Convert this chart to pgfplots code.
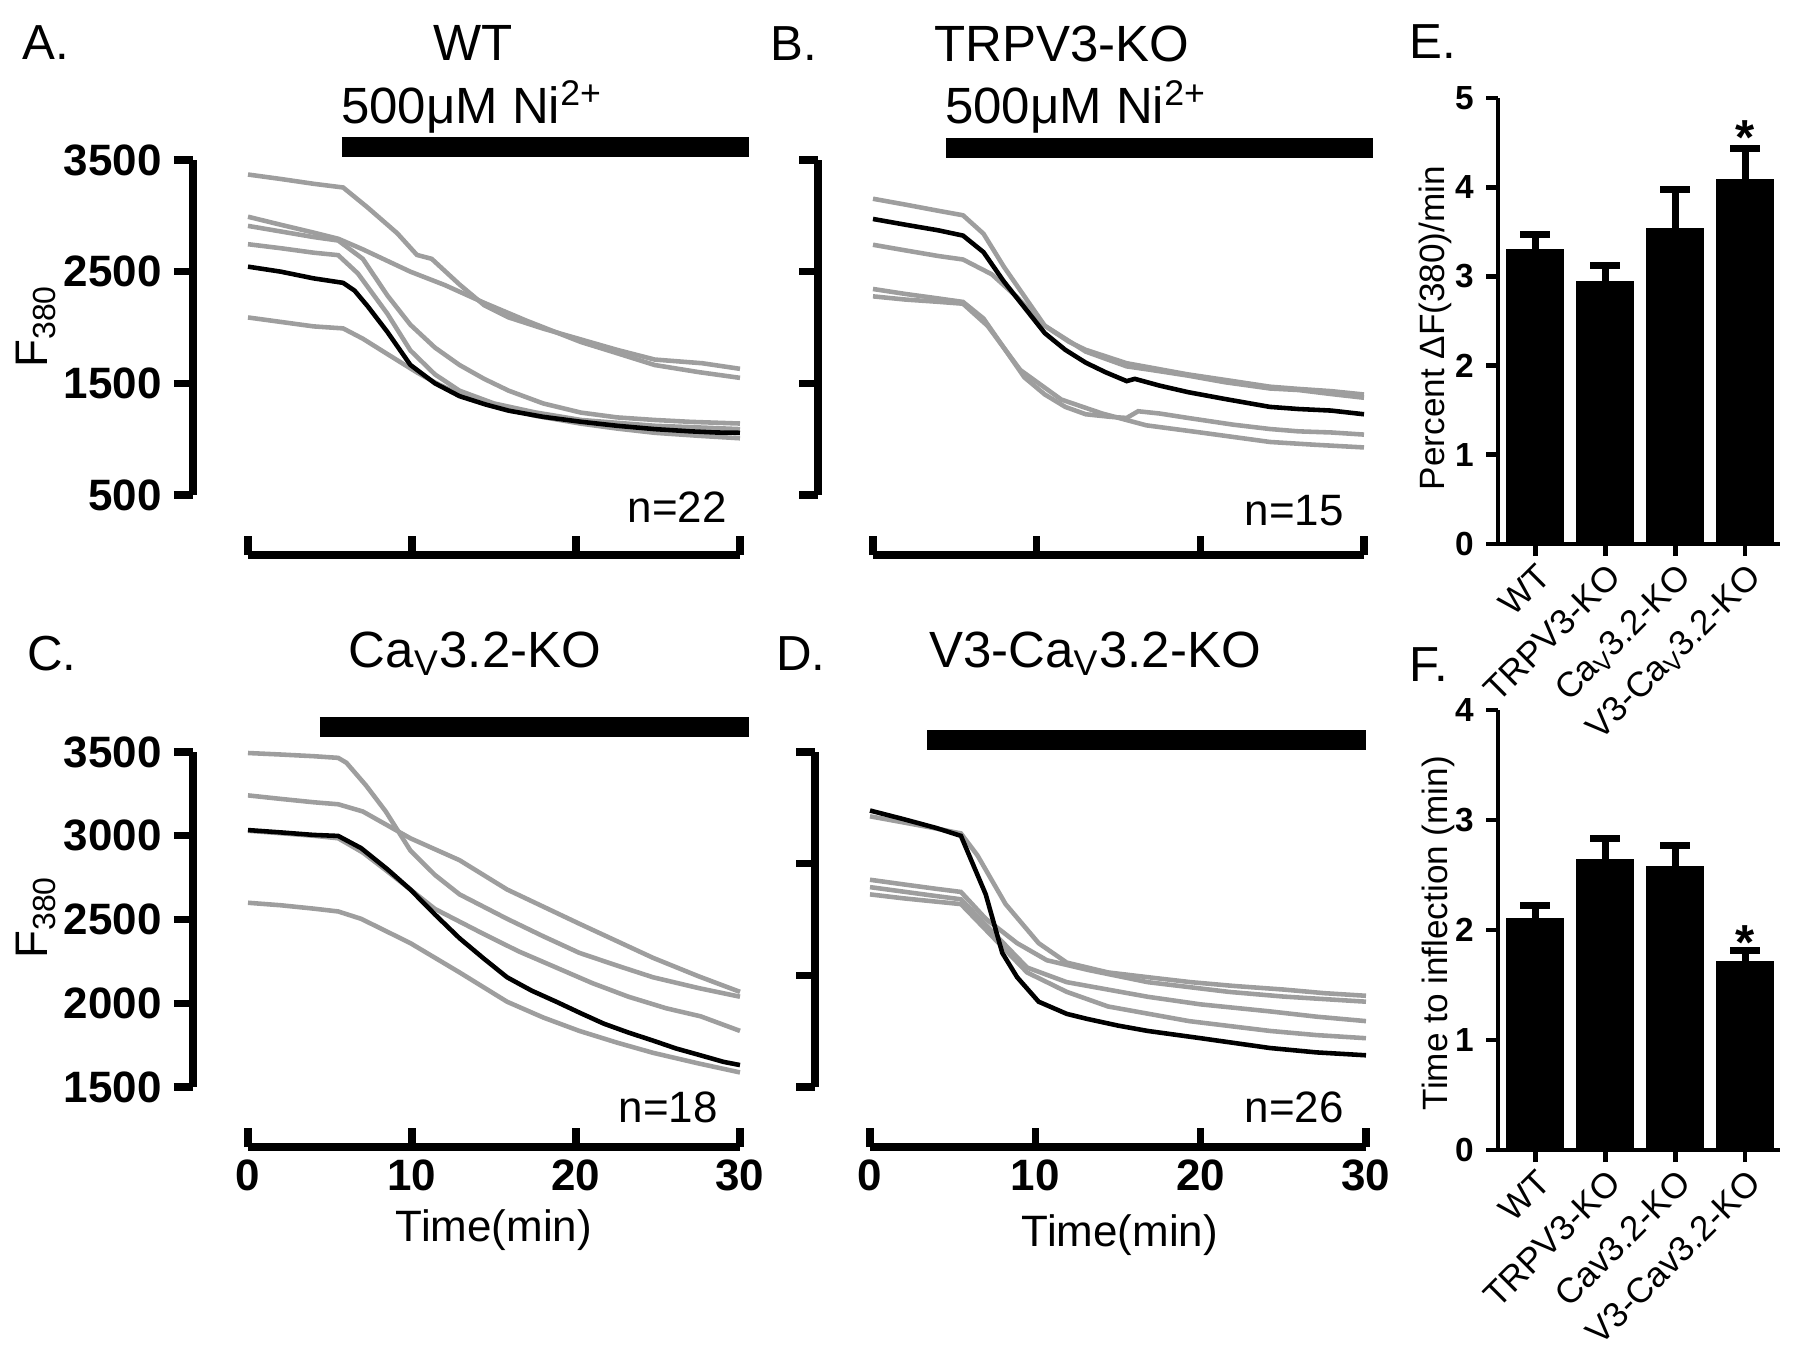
\documentclass[border=0pt]{standalone}
\usepackage{pgfplots}
\pgfplotsset{compat=1.18}
\usepackage{fontspec}
\setmainfont{Liberation Sans}
\definecolor{trgray}{RGB}{158,158,158}
\newcommand{\fs}[1]{\fontsize{#1}{#1}\selectfont}
\pgfplotsset{
  trace/.style={
    scale only axis, clip=false,
    xmin=0, xmax=30,
    axis x line=bottom, axis y line=left,
    axis line style={-, line width=2pt},
    every outer x axis line/.append style={-},
    every outer y axis line/.append style={-},
    every inner x axis line/.append style={-},
    every inner y axis line/.append style={-},
    xtick={0,10,20,30},
    xtick align=inside, ytick align=outside,
    major tick length=0.19cm,
    tick style={line width=2pt, black},
    /pgf/number format/assume math mode=true,
    /pgf/number format/1000 sep={},
    ticklabel style={font=\bfseries\fs{12.5}},
    axis x line shift=0.6cm,
    axis y line shift=0.55cm,
  },
  bars/.style={
    scale only axis, clip=false,
    xmin=0.47, xmax=4.5, ymin=0,
    axis x line=bottom, axis y line=left,
    axis line style={-, line width=1.4pt},
    every outer x axis line/.append style={-},
    every outer y axis line/.append style={-},
    every inner x axis line/.append style={-},
    every inner y axis line/.append style={-},
    xtick={1,2,3,4},
    tick align=outside,
    major tick length=0.12cm,
    tick style={line width=1.4pt, black},
    /pgf/number format/assume math mode=true,
    yticklabel style={font=\bfseries\fs{9.5}},
    xticklabel style={font=\fs{10}, rotate=45, anchor=north east, inner sep=1pt},
  },
  gtr/.style={color=trgray, line width=1.3pt, no marks},
  btr/.style={black, line width=1.3pt, no marks},
  drug/.style={black, line width=5.6pt, no marks},
  barplot/.style={ybar, bar width=0.56cm, fill=black, draw=black,
    error bars/.cd, y dir=plus, y explicit,
    error bar style={line width=2pt, black},
    error mark options={rotate=90, line width=2pt, mark size=0.15cm, black}},
}
\begin{document}
\begin{tikzpicture}
\useasboundingbox (0,0) rectangle (18,-13.51);

% ---------------- Panel A ----------------
\begin{axis}[trace, at={(2.48cm,-4.95cm)}, anchor=south west,
  width=4.92cm, height=3.35cm, ymin=500, ymax=3500,
  ytick={500,1500,2500,3500}, xticklabels={}]
\addplot[drug] coordinates {(5.73,3616) (30.55,3616)};
\addplot[gtr] coordinates {(0,3370)(2,3330)(4,3287)(5.8,3254)(7.3,3074)(9.1,2844)(10.3,2650)(11.2,2615)(12.9,2385)(14.4,2200)(15.9,2090)(18,1990)(20.3,1893)(22.5,1800)(24.8,1713)(27.7,1680)(30,1630)};
\addplot[gtr] coordinates {(0,2992)(2,2920)(4,2850)(5.5,2795)(7,2700)(9.9,2500)(12,2380)(14.4,2221)(17,2060)(20.3,1870)(22.5,1770)(24.8,1664)(27.5,1600)(30,1549)};
\addplot[gtr] coordinates {(0,2910)(2,2860)(4,2810)(5.5,2779)(7,2615)(8.5,2287)(9.9,2025)(11.4,1820)(12.9,1664)(14.4,1540)(15.9,1434)(18,1320)(20.3,1238)(22.5,1195)(24.8,1172)(27,1155)(30,1140)};
\addplot[gtr] coordinates {(0,2746)(2,2710)(4,2670)(5.5,2648)(6.7,2484)(8.5,2123)(9.9,1795)(11.4,1580)(12.9,1434)(15,1320)(17.5,1240)(20.3,1172)(24.8,1120)(27.5,1105)(30,1090)};
\addplot[gtr] coordinates {(0,2090)(2,2050)(4,2010)(5.8,1992)(7,1900)(8.5,1762)(10.3,1598)(11.5,1500)(12.9,1402)(15,1300)(17.5,1210)(20.3,1139)(22.5,1095)(24.8,1057)(27.5,1030)(30,1008)};
\addplot[btr] coordinates {(0,2545)(2,2500)(4,2440)(5.8,2400)(6.5,2330)(7.3,2190)(8.5,1960)(9.9,1665)(11.4,1500)(12.9,1385)(14.5,1310)(15.9,1255)(18,1200)(20.3,1156)(22.5,1120)(24.8,1090)(27,1070)(28.5,1060)(30,1057)};
\end{axis}

% ---------------- Panel B ----------------
\begin{axis}[trace, at={(8.73cm,-4.95cm)}, anchor=south west,
  width=4.91cm, height=3.35cm, ymin=500, ymax=3500,
  ytick={500,1500,2500,3500}, xticklabels={}, yticklabels={}]
\addplot[drug] coordinates {(4.46,3607) (30.55,3607)};
\addplot[gtr] coordinates {(0,3153)(2,3100)(4,3045)(5.5,3005)(6.75,2840)(8,2543)(9.25,2279)(10.5,2015)(13,1784)(15.5,1652)(17,1620)(19.25,1569)(21.5,1510)(24.25,1454)(26,1440)(28,1404)(30,1371)};
\addplot[gtr] coordinates {(0,2741)(2,2690)(4,2640)(5.5,2609)(7.25,2477)(8.75,2279)(10.5,2015)(12,1870)(13,1800)(15.5,1680)(17,1640)(19.25,1580)(22,1520)(24.25,1470)(26,1450)(28,1430)(30,1400)};
\addplot[gtr] coordinates {(0,2345)(2,2300)(4,2260)(5.5,2229)(6.75,2081)(8,1817)(9.25,1553)(10.5,1400)(11.75,1289)(13,1223)(14.5,1200)(15.5,1190)(16.2,1250)(17.5,1230)(19.25,1190)(22,1130)(24.25,1091)(26,1070)(28,1060)(30,1041)};
\addplot[gtr] coordinates {(0,2279)(2,2250)(4,2230)(5.5,2213)(7,2015)(9,1619)(11.5,1355)(14,1230)(16.7,1124)(20,1060)(24.25,975)(27,950)(30,926)};
\addplot[btr] coordinates {(0,2972)(2,2920)(4,2870)(5.5,2823)(6.75,2675)(8,2411)(9.25,2180)(10.5,1949)(11.75,1800)(13,1685)(14.2,1600)(15.5,1520)(16,1540)(17.5,1480)(19.25,1421)(21.5,1360)(24.25,1289)(26,1270)(28,1256)(30,1223)};
\end{axis}

% ---------------- Panel C ----------------
\begin{axis}[trace, at={(2.48cm,-10.87cm)}, anchor=south west,
  width=4.92cm, height=3.35cm, ymin=1500, ymax=3500,
  ytick={1500,2000,2500,3000,3500}]
\addplot[drug] coordinates {(4.39,3649) (30.55,3649)};
\addplot[gtr] coordinates {(0,3494)(2,3485)(4,3475)(5.5,3465)(6,3436)(7.2,3300)(8.4,3145)(9.9,2912)(11.4,2766)(12.9,2650)(15.8,2504)(18,2400)(20.2,2301)(22.5,2225)(24.7,2155)(27.5,2090)(30,2039)};
\addplot[gtr] coordinates {(0,3241)(2,3220)(4,3200)(5.5,3188)(7,3145)(9.9,2985)(12.9,2854)(15.8,2679)(20.2,2475)(24.7,2271)(27.5,2160)(30,2068)};
\addplot[gtr] coordinates {(0,3030)(2,3015)(4,3000)(5.5,2985)(7,2900)(8.4,2795)(11.4,2563)(14.3,2417)(16.5,2310)(18.8,2213)(21,2120)(23.2,2039)(25.5,1970)(27.6,1922)(30,1835)};
\addplot[gtr] coordinates {(0,2600)(2,2585)(4,2565)(5.5,2548)(6.9,2504)(9.9,2359)(12.9,2184)(15.8,2009)(18,1915)(20.2,1835)(22.5,1765)(24.7,1704)(27.5,1640)(30,1587)};
\addplot[btr] coordinates {(0,3034)(2,3020)(4,3005)(5.5,2999)(6.9,2926)(8.5,2800)(9.9,2679)(11.4,2530)(12.9,2388)(14.4,2265)(15.8,2155)(17.3,2075)(18.8,2009)(20.3,1940)(21.7,1878)(23.2,1825)(24.7,1777)(26.1,1730)(27.6,1689)(29,1650)(30,1631)};
\end{axis}

% ---------------- Panel D ----------------
\begin{axis}[trace, at={(8.70cm,-10.87cm)}, anchor=south west,
  width=4.96cm, height=3.35cm, ymin=1000, ymax=4000,
  ytick={1000,2000,3000,4000}, yticklabels={}]
\addplot[drug] coordinates {(3.45,4107) (30,4107)};
\addplot[gtr] coordinates {(0,3424)(2,3370)(4,3315)(5.5,3271)(6.5,3074)(8.2,2638)(10.2,2288)(11.9,2114)(14.4,2026)(17,1980)(19.4,1939)(22,1905)(25,1873)(27.5,1840)(30,1817)};
\addplot[gtr] coordinates {(0,2856)(2,2815)(4,2775)(5.5,2747)(7,2507)(8.9,2288)(10.7,2135)(13.2,2048)(16.8,1939)(21.7,1852)(25,1810)(30,1764)};
\addplot[gtr] coordinates {(0,2790)(2,2750)(4,2710)(5.5,2681)(7.5,2376)(9.5,2070)(11.9,1939)(16.8,1808)(20,1740)(24.2,1677)(27,1630)(30,1590)};
\addplot[gtr] coordinates {(0,2725)(2,2690)(4,2660)(5.5,2638)(7.5,2332)(9.5,2026)(11.9,1852)(14.4,1721)(19.3,1590)(24.2,1502)(27,1465)(30,1437)};
\addplot[btr] coordinates {(0,3476)(2,3400)(4,3320)(5.5,3249)(6,3074)(7,2725)(8,2201)(8.9,1983)(10.2,1764)(11.9,1655)(13.1,1611)(15,1550)(16.8,1502)(20,1437)(22,1395)(24.2,1349)(27,1310)(30,1284)};
\end{axis}

% ---------------- Panel E ----------------
\begin{axis}[bars, at={(14.98cm,-5.44cm)}, anchor=south west,
  width=2.82cm, height=4.46cm, ymax=5, ytick={0,1,2,3,4,5},
  xticklabels={WT,TRPV3-KO,Ca\textsubscript{V}3.2-KO,V3-Ca\textsubscript{V}3.2-KO}]
\addplot[barplot] coordinates {(1,3.30) +- (0,0.17) (2,2.94) +- (0,0.18) (3,3.53) +- (0,0.44) (4,4.08) +- (0,0.35)};
\node[font=\bfseries\fs{14}] at (axis cs:4,4.56) {*};
\end{axis}

% ---------------- Panel F ----------------
\begin{axis}[bars, at={(14.98cm,-11.50cm)}, anchor=south west,
  width=2.82cm, height=4.40cm, ymax=4, ytick={0,1,2,3,4},
  xticklabels={WT,TRPV3-KO,Cav3.2-KO,V3-Cav3.2-KO}]
\addplot[barplot] coordinates {(1,2.10) +- (0,0.12) (2,2.64) +- (0,0.19) (3,2.58) +- (0,0.19) (4,1.71) +- (0,0.10)};
\node[font=\bfseries\fs{14}] at (axis cs:4,1.89) {*};
\end{axis}

% ---------------- Text ----------------
\node[anchor=west, font=\fs{14}] at (0.10,-0.43) {A.};
\node[anchor=west, font=\fs{14}] at (7.58,-0.44) {B.};
\node[anchor=west, font=\fs{14}] at (0.15,-6.54) {C.};
\node[anchor=west, font=\fs{14}] at (7.64,-6.54) {D.};
\node[anchor=west, font=\fs{14}] at (13.97,-0.42) {E.};
\node[anchor=west, font=\fs{14}] at (13.97,-6.65) {F.};

\node[font=\fs{14.5}] at (4.73,-0.43) {WT};
\node[font=\fs{14.5}] at (4.72,-1.07) {500μM Ni\textsuperscript{2+}};
\node[font=\fs{14.5}] at (10.62,-0.44) {TRPV3-KO};
\node[font=\fs{14.5}] at (10.76,-1.07) {500μM Ni\textsuperscript{2+}};
\node[font=\fs{14.5}] at (4.75,-6.54) {Ca\textsubscript{V}3.2-KO};
\node[font=\fs{14.5}] at (10.95,-6.54) {V3-Ca\textsubscript{V}3.2-KO};

\node[anchor=east, font=\fs{12.5}] at (7.39,-5.07) {n=22};
\node[anchor=east, font=\fs{12.5}] at (13.56,-5.11) {n=15};
\node[anchor=east, font=\fs{12.5}] at (7.30,-11.07) {n=18};
\node[anchor=east, font=\fs{12.5}] at (13.56,-11.07) {n=26};

\node[rotate=90, font=\fs{13}] at (0.36,-3.26) {F\textsubscript{380}};
\node[rotate=90, font=\fs{13}] at (0.36,-9.17) {F\textsubscript{380}};
\node[font=\fs{12.5}] at (4.94,-12.30) {Time(min)};
\node[font=\fs{12.5}] at (11.20,-12.35) {Time(min)};

\node[rotate=90, font=\fs{10}] at (14.35,-3.28) {Percent ΔF(380)/min};
\node[rotate=90, font=\fs{10}] at (14.38,-9.33) {Time to inflection (min)};
\end{tikzpicture}
\end{document}
